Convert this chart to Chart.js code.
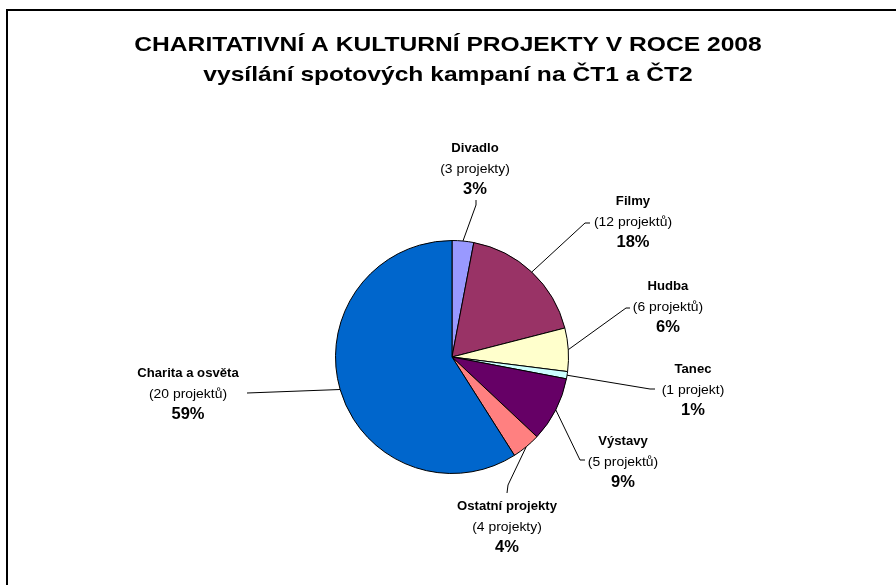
<!DOCTYPE html>
<html>
<head>
<meta charset="utf-8">
<script src="https://cdn.jsdelivr.net/npm/chart.js@4"></script>
<style>
  body { margin: 0; background: #fff; }
  #wrap { position: relative; width: 896px; height: 585px; overflow: hidden; }
  #frame { position: absolute; left: 6px; top: 9px; width: 1000px; height: 1000px; border: 2px solid #000; }
  #wrap canvas { position: absolute; left: 0; top: 0; }
</style>
</head>
<body>
<div id="wrap">
  <div id="frame"></div>
  <canvas id="pieChart"></canvas>
</div>
<script>
const titleLines = ['CHARITATIVNÍ A KULTURNÍ PROJEKTY V ROCE 2008', 'vysílání spotových kampaní na ČT1 a ČT2'];
const categories = ['Divadlo', 'Filmy', 'Hudba', 'Tanec', 'Výstavy', 'Ostatní projekty', 'Charita a osvěta'];
const shares = [3, 18, 6, 1, 9, 4, 59];        // percent
const projectCounts = [3, 12, 6, 1, 5, 4, 20];
const colors = ['#9999FF', '#993366', '#FFFFCC', '#CCFFFF', '#660066', '#FF8080', '#0066CC'];

const FONT = '"Liberation Sans", Arial, sans-serif';

function projektWord(n) {
    if (n === 1) return 'projekt';
    if (n >= 2 && n <= 4) return 'projekty';
    return 'projektů';
}

// label block position (first line centre) and leader bend points, relative to pie centre
const labelLayout = [
    { text: [23, -208], leader: [[24, -152], [24, -157]] },
    { text: [181, -155], leader: [[133, -134], [138, -134]] },
    { text: [216, -70], leader: [[174, -49], [178, -49]] },
    { text: [241, 13], leader: [[198, 32], [203, 32]] },
    { text: [171, 85], leader: [[128, 103], [133, 103]] },
    { text: [55, 150], leader: [[56, 128], [55, 136]] },
    { text: [-264, 17], leader: [[-205, 36]] }
];

// draws text slightly widened, like the original export
function wideText(ctx, str, x, y, sx) {
    ctx.save();
    ctx.translate(x, y);
    ctx.scale(sx, 1);
    ctx.fillText(str, 0, 0);
    ctx.restore();
}

const pieLabels = {
    id: 'pieLabels',
    afterDatasetsDraw(chart) {
        const ctx = chart.ctx;
        const arcs = chart.getDatasetMeta(0).data;
        ctx.save();
        ctx.fillStyle = '#000';
        ctx.textAlign = 'center';
        ctx.textBaseline = 'middle';

        // title
        ctx.font = 'bold 20.5px ' + FONT;
        wideText(ctx, titleLines[0], 448, 45, 1.2);
        wideText(ctx, titleLines[1], 448, 75, 1.2);

        arcs.forEach((arc, i) => {
            const mid = (arc.startAngle + arc.endAngle) / 2;
            const cx = arc.x, cy = arc.y;
            const lay = labelLayout[i];
            // leader line
            ctx.beginPath();
            ctx.strokeStyle = '#000';
            ctx.lineWidth = 1;
            ctx.moveTo(cx + Math.cos(mid) * arc.outerRadius, cy + Math.sin(mid) * arc.outerRadius);
            lay.leader.forEach(p => ctx.lineTo(cx + p[0], cy + p[1]));
            ctx.stroke();
            // texts
            const tx = cx + lay.text[0], ty = cy + lay.text[1];
            ctx.font = 'bold 12.5px ' + FONT;
            wideText(ctx, categories[i], tx, ty, 1.05);
            ctx.font = '13px ' + FONT;
            wideText(ctx, '(' + projectCounts[i] + ' ' + projektWord(projectCounts[i]) + ')', tx, ty + 20, 1.07);
            ctx.font = 'bold 16.5px ' + FONT;
            ctx.fillText(shares[i] + '%', tx, ty + 40);
        });
        ctx.restore();
    }
};

const ctx = document.getElementById('pieChart').getContext('2d');

const pieChart = new Chart(ctx, {
    type: 'pie',
    data: {
        labels: categories,
        datasets: [{
            data: shares,
            backgroundColor: colors,
            borderColor: '#000',
            borderWidth: 1
        }]
    },
    options: {
        responsive: true,
        maintainAspectRatio: false,
        animation: false,
        layout: {
            padding: { left: 20, right: 12, top: 240, bottom: 111 }
        },
        plugins: {
            legend: { display: false },
            tooltip: { enabled: false },
            title: { display: false }
        }
    },
    plugins: [pieLabels]
});
</script>
</body>
</html>
